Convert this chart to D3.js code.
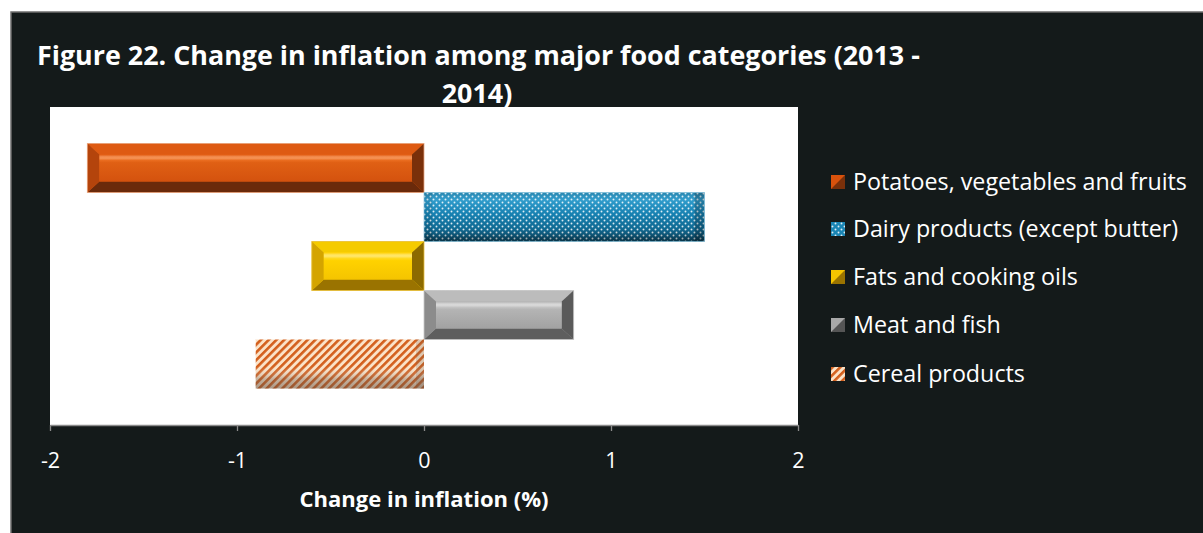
<!DOCTYPE html>
<html>
<head>
<meta charset="utf-8">
<script src="https://cdn.jsdelivr.net/npm/d3@7"></script>
<style>
  html, body { margin: 0; padding: 0; background: #ffffff; }
  svg { display: block; }
  text { font-family: "Open Sans", "DejaVu Sans", sans-serif; }
</style>
</head>
<body>
<svg id="chart" width="1203" height="533"></svg>
<script>
// Food categories and their change in inflation, 2013 - 2014 (%)
const categories = [
  "Potatoes, vegetables and fruits",
  "Dairy products (except butter)",
  "Fats and cooking oils",
  "Meat and fish",
  "Cereal products"
];
const values = [-1.8, 1.5, -0.6, 0.8, -0.9];
const xTicks = [-2, -1, 0, 1, 2];
const titleLines = ["Figure 22. Change in inflation among major food categories (2013 -", "2014)"];
const axisTitle = "Change in inflation (%)";

const W = 1203, H = 533;
const svg = d3.select("#chart");
const defs = svg.append("defs");

// Frame: dark panel with a thin grey edge
svg.append("rect").attr("x", 0).attr("y", 0).attr("width", W).attr("height", H).attr("fill", "#ffffff");
svg.append("rect").attr("x", 11).attr("y", 12).attr("width", W - 10).attr("height", H - 11)
  .attr("fill", "#141a1a").attr("stroke", "#6e6e6e").attr("stroke-width", 1.5);

const plot = { left: 50, right: 798, top: 107, bottom: 425 };

const x = d3.scaleLinear().domain([-2, 2]).range([plot.left, plot.right]);
const y = d3.scaleBand().domain(categories).range([plot.top, plot.bottom])
  .paddingInner(0).paddingOuter(0.745);

// Fit a text element to a target width by adjusting its font size
function fitText(sel, targetWidth) {
  const node = sel.node();
  const fs = parseFloat(sel.attr("font-size"));
  const w = node.getComputedTextLength();
  sel.attr("font-size", (fs * targetWidth / w).toFixed(2));
}

// Title (drawn first; plot area overlaps its lower edge)
const t1 = svg.append("text").attr("x", 37).attr("y", 65).attr("fill", "#ffffff")
  .attr("font-weight", "bold").attr("font-size", 24).text(titleLines[0]);
fitText(t1, 883);
svg.append("text").attr("x", 477).attr("y", 103).attr("fill", "#ffffff")
  .attr("text-anchor", "middle").attr("font-weight", "bold")
  .attr("font-size", t1.attr("font-size")).text(titleLines[1]);

// Plot area
svg.append("rect").attr("x", plot.left).attr("y", plot.top)
  .attr("width", plot.right - plot.left).attr("height", plot.bottom - plot.top)
  .attr("fill", "#ffffff");

// Patterns and gradients
const dots = defs.append("pattern").attr("id", "dots").attr("patternUnits", "userSpaceOnUse")
  .attr("width", 6).attr("height", 6);
dots.append("circle").attr("cx", 1.5).attr("cy", 1.5).attr("r", 0.95).attr("fill", "#ffffff").attr("opacity", 0.85);
dots.append("circle").attr("cx", 4.5).attr("cy", 4.5).attr("r", 0.95).attr("fill", "#ffffff").attr("opacity", 0.85);

const stripes = defs.append("pattern").attr("id", "stripes").attr("patternUnits", "userSpaceOnUse")
  .attr("width", 5.5).attr("height", 5.5).attr("patternTransform", "rotate(45)");
stripes.append("rect").attr("width", 5.5).attr("height", 5.5).attr("fill", "#fbe3c8");
stripes.append("rect").attr("x", 0).attr("width", 2.6).attr("height", 5.5).attr("fill", "#d35f1c");

function vGrad(id, stops) {
  const g = defs.append("linearGradient").attr("id", id)
    .attr("x1", 0).attr("y1", 0).attr("x2", 0).attr("y2", 1);
  stops.forEach(s => g.append("stop").attr("offset", s[0]).attr("stop-color", s[1])
    .attr("stop-opacity", s[2] === undefined ? 1 : s[2]));
}
vGrad("faceOrange", [[0, "#e0580f"], [0.12, "#f57a2c"], [0.3, "#e06014"], [1, "#d4520e"]]);
vGrad("faceYellow", [[0, "#ffd000"], [0.12, "#ffe24a"], [0.3, "#ffd200"], [1, "#f5c400"]]);
vGrad("faceGray", [[0, "#b0b0b0"], [0.12, "#d2d2d2"], [0.3, "#b4b4b4"], [1, "#a2a2a2"]]);
vGrad("faceBlue", [[0, "#137aa8"], [0.15, "#2f9ccc"], [0.45, "#1680b0"], [0.85, "#0f6288"], [1, "#0a4a66"]]);
vGrad("shadeStripe", [[0, "#ffffff", 0], [0.55, "#ffffff", 0], [0.8, "#6a5a50", 0.35], [1, "#5a4a40", 0.5]]);
vGrad("shadeBlue", [[0, "#ffffff", 0.1], [0.2, "#ffffff", 0], [0.75, "#000000", 0], [1, "#000000", 0.3]]);

const bevelStyles = {
  "Potatoes, vegetables and fruits": { face: "url(#faceOrange)", top: "#de5a12", bottom: "#6a2a0b", left: "#b4440c", right: "#7a300a", edge: "#e9a882" },
  "Fats and cooking oils": { face: "url(#faceYellow)", top: "#f5cb00", bottom: "#9a7300", left: "#d4a400", right: "#8c6a00", edge: "#e8c040" },
  "Meat and fish": { face: "url(#faceGray)", top: "#bcbcbc", bottom: "#5e5e5e", left: "#8c8c8c", right: "#5a5a5a", edge: "#c8c8c8" }
};

const bars = svg.append("g").attr("class", "bars");

categories.forEach((cat, i) => {
  const v = values[i];
  const x0 = x(Math.min(0, v)), x1 = x(Math.max(0, v));
  const y0 = y(cat), y1 = y(cat) + y.bandwidth();
  const g = bars.append("g");
  const st = bevelStyles[cat];
  if (st) {
    const bx = 12, by = 11;
    const pts = a => a.map(p => p.join(",")).join(" ");
    g.append("rect").attr("x", x0).attr("y", y0).attr("width", x1 - x0).attr("height", y1 - y0).attr("fill", st.face);
    g.append("polygon").attr("points", pts([[x0, y0], [x1, y0], [x1 - bx, y0 + by], [x0 + bx, y0 + by]])).attr("fill", st.top);
    g.append("polygon").attr("points", pts([[x0, y1], [x1, y1], [x1 - bx, y1 - by], [x0 + bx, y1 - by]])).attr("fill", st.bottom);
    g.append("polygon").attr("points", pts([[x0, y0], [x0 + bx, y0 + by], [x0 + bx, y1 - by], [x0, y1]])).attr("fill", st.left);
    g.append("polygon").attr("points", pts([[x1, y0], [x1 - bx, y0 + by], [x1 - bx, y1 - by], [x1, y1]])).attr("fill", st.right);
    // inner face with its highlight band
    g.append("rect").attr("x", x0 + bx).attr("y", y0 + by).attr("width", x1 - x0 - 2 * bx)
      .attr("height", y1 - y0 - 2 * by).attr("fill", st.face);
    g.append("rect").attr("x", x0 + bx).attr("y", y0 + by + 1).attr("width", x1 - x0 - 2 * bx)
      .attr("height", 4).attr("fill", "#ffffff").attr("opacity", 0.18);
    g.append("rect").attr("x", x0).attr("y", y0).attr("width", x1 - x0).attr("height", y1 - y0)
      .attr("fill", "none").attr("stroke", st.edge).attr("stroke-width", 1).attr("opacity", 0.8);
  } else if (cat === "Dairy products (except butter)") {
    g.append("rect").attr("x", x0).attr("y", y0).attr("width", x1 - x0).attr("height", y1 - y0).attr("fill", "url(#faceBlue)");
    g.append("rect").attr("x", x0).attr("y", y0).attr("width", x1 - x0).attr("height", y1 - y0).attr("fill", "url(#dots)");
    g.append("rect").attr("x", x0).attr("y", y0).attr("width", x1 - x0).attr("height", y1 - y0).attr("fill", "url(#shadeBlue)");
    g.append("rect").attr("x", x1 - 10).attr("y", y0).attr("width", 10).attr("height", y1 - y0).attr("fill", "#000000").attr("opacity", 0.2);
    g.append("rect").attr("x", x0).attr("y", y0).attr("width", 8).attr("height", y1 - y0).attr("fill", "#000000").attr("opacity", 0.08);
    g.append("rect").attr("x", x0).attr("y", y0).attr("width", x1 - x0).attr("height", y1 - y0)
      .attr("fill", "none").attr("stroke", "#7fc0dc").attr("stroke-width", 1).attr("opacity", 0.6);
  } else {
    g.append("rect").attr("x", x0).attr("y", y0).attr("width", x1 - x0).attr("height", y1 - y0).attr("fill", "url(#stripes)");
    g.append("rect").attr("x", x0).attr("y", y0).attr("width", x1 - x0).attr("height", y1 - y0).attr("fill", "url(#shadeStripe)");
    g.append("rect").attr("x", x1 - 8).attr("y", y0).attr("width", 8).attr("height", y1 - y0).attr("fill", "#6a5a50").attr("opacity", 0.2);
  }
});

// X axis
const axis = svg.append("g").attr("transform", `translate(0,${plot.bottom})`)
  .call(d3.axisBottom(x).tickValues(xTicks).tickFormat(d => String(d)).tickSizeInner(6).tickSizeOuter(0));
axis.select(".domain").attr("stroke", "#8a8a8a").attr("stroke-width", 1.3);
axis.selectAll(".tick line").attr("stroke", "#8a8a8a").attr("stroke-width", 1.3);
axis.selectAll(".tick text").attr("fill", "#ffffff").attr("font-size", 21.5)
  .attr("font-family", "'Open Sans', sans-serif").attr("dy", 0).attr("y", 43);

const at = svg.append("text").attr("x", x(0)).attr("y", 507).attr("text-anchor", "middle")
  .attr("fill", "#ffffff").attr("font-weight", "bold").attr("font-size", 20).text(axisTitle);
fitText(at, 249);

// Legend
const legendColors = [
  ["#d9520c", "#7a300a"],
  ["#1a85b4", "#0e5a7a"],
  ["#f5c400", "#9a7300"],
  ["#a8a8a8", "#555555"],
  ["#d8631e", "#f5e0cc"]
];
const legendY = [182, 229, 277, 325, 374];
const legend = svg.append("g");
categories.forEach((cat, i) => {
  const cy = legendY[i];
  const sx = 831, sy = cy - 7, s = 14;
  const lg = legend.append("g");
  if (i === 4) {
    lg.append("rect").attr("x", sx).attr("y", sy).attr("width", s).attr("height", s).attr("fill", "url(#stripes)");
  } else if (i === 1) {
    lg.append("rect").attr("x", sx).attr("y", sy).attr("width", s).attr("height", s).attr("fill", legendColors[i][0]);
    lg.append("rect").attr("x", sx).attr("y", sy).attr("width", s).attr("height", s).attr("fill", "url(#dots)");
  } else {
    lg.append("rect").attr("x", sx).attr("y", sy).attr("width", s).attr("height", s).attr("fill", legendColors[i][0]);
    lg.append("polygon").attr("points", `${sx + s},${sy} ${sx + s},${sy + s} ${sx},${sy + s}`)
      .attr("fill", legendColors[i][1]);
  }
  lg.append("text").attr("x", 853).attr("y", cy + 8).attr("fill", "#ffffff")
    .attr("font-size", 21).text(cat);
});
// Common legend font size, fitted on the longest label
const first = legend.select("text");
const fs0 = parseFloat(first.attr("font-size"));
const w0 = first.node().getComputedTextLength();
legend.selectAll("text").attr("font-size", (fs0 * 334 / w0).toFixed(2));
</script>
</body>
</html>
